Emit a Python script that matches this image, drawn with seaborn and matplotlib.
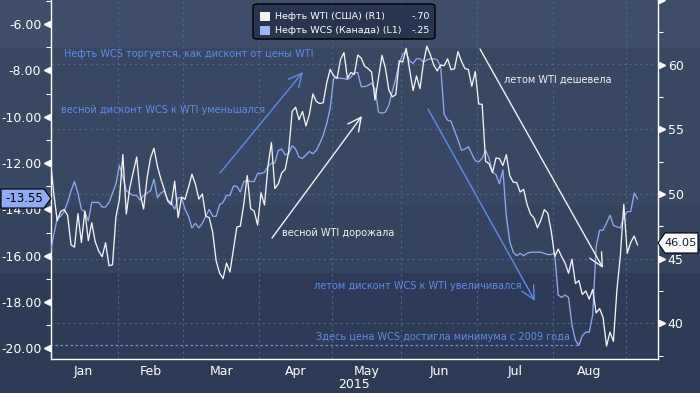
import numpy as np
import pandas as pd
import matplotlib
matplotlib.use("Agg")
import matplotlib.pyplot as plt
import seaborn as sns
from matplotlib.patches import Rectangle, Polygon, FancyBboxPatch
from matplotlib.transforms import blended_transform_factory

# ---------------- data ----------------
month_names = ["Jan", "Feb", "Mar", "Apr", "May", "Jun", "Jul", "Aug"]
month_days = [20, 19, 22, 21, 20, 22, 22, 21]   # trading days per month
year_label = "2015"

wti = [52.69, 50.04, 47.93, 48.65, 48.79, 48.36, 46.07, 45.89, 48.48, 46.25,
       48.69, 46.39, 47.78, 46.31, 45.59, 45.15, 46.23, 44.45, 44.53, 48.24,
       49.57, 53.05, 48.45, 50.48, 51.69, 52.86, 50.02, 48.84, 51.21, 52.78,
       53.53, 52.14, 51.16, 50.34, 49.45, 49.17, 50.99, 48.17, 49.76,
       49.59, 50.52, 51.53, 50.76, 49.61, 50.00, 48.29, 48.17, 47.05, 44.84,
       43.88, 43.46, 44.66, 43.96, 45.72, 47.45, 47.51, 49.21, 51.43, 48.87,
       48.68, 47.60,
       50.09, 49.14, 52.14, 53.98, 50.42, 50.79, 51.64, 51.91, 53.29, 56.39,
       56.71, 55.74, 56.38, 55.26, 56.16, 57.74, 57.15, 56.99, 57.06, 58.58,
       59.63,
       59.15, 58.93, 60.40, 60.93, 58.94, 59.39, 59.25, 60.75, 60.50, 59.88,
       59.69, 59.43, 57.26, 58.98, 60.72, 59.72, 58.03, 57.51, 57.68, 60.30,
       60.20, 61.26, 59.64, 58.00, 59.13, 58.14, 60.14, 61.43, 60.77, 59.96,
       59.52, 59.97, 59.92, 60.45, 59.61, 59.68, 61.01, 60.27, 59.70, 59.63,
       58.33, 59.47,
       56.96, 56.93, 52.53, 52.33, 51.65, 52.78, 52.74, 52.20, 53.04, 51.41,
       50.91, 50.89, 50.15, 50.36, 49.19, 48.45, 48.14, 47.39, 47.98, 48.79,
       48.52, 47.12,
       45.17, 45.74, 45.15, 44.66, 43.87, 44.96, 43.08, 43.30, 42.23, 42.50,
       41.87, 42.62, 40.80, 41.14, 40.45, 38.24, 39.31, 38.60, 42.56, 45.22,
       49.20,
       45.41, 46.25, 46.75, 46.05]

wcs = [-15.9, -15.1, -14.4, -14.3, -14.1, -13.7, -13.2, -12.8, -13.3, -14.0,
       -14.1, -14.5, -13.7, -13.7, -13.7, -13.9, -13.9, -13.7, -13.3, -12.9,
       -12.1, -12.6, -13.2, -13.3, -13.4, -13.4, -13.6, -13.4, -13.3, -13.2,
       -12.7, -13.5, -13.3, -13.2, -13.6, -13.7, -14.0, -13.5, -13.5,
       -14.0, -14.3, -14.8, -14.6, -14.8, -14.6, -14.3, -14.0, -14.3, -14.3,
       -13.8, -13.7, -13.4, -13.4, -13.0, -13.0, -13.25, -12.8, -12.75, -12.8,
       -12.8, -12.45,
       -12.45, -12.4, -12.15, -12.0, -12.0, -11.45, -11.4, -11.65, -11.6, -11.25,
       -11.4, -11.75, -11.8, -11.65, -11.5, -11.6, -11.45, -11.15, -10.8, -10.3,
       -9.65,
       -8.35, -8.3, -8.35, -8.35, -8.4, -8.3, -8.1, -8.1, -8.7, -8.7,
       -8.65, -8.55, -8.8, -9.8, -9.85, -9.8, -9.5, -8.9, -8.35, -7.7,
       -7.3, -7.2, -7.6, -7.7, -7.5, -7.5, -7.65, -7.55, -7.5, -7.5,
       -7.55, -7.85, -9.9, -10.15, -10.2, -10.6, -11.0, -11.45, -11.4, -11.3,
       -11.6, -11.9,
       -11.95, -11.8, -11.45, -11.8, -12.4, -12.5, -12.9, -12.3, -14.3, -15.4,
       -15.85, -16.0, -15.9, -16.0, -15.9, -15.85, -15.85, -15.85, -15.85, -15.9,
       -15.95, -15.95,
       -15.9, -17.7, -17.8, -17.7, -17.8, -19.0, -19.65, -19.87, -19.45, -19.3,
       -19.3, -18.55, -15.6, -14.9, -14.9, -14.6, -14.25, -14.7, -14.75, -14.8,
       -14.3,
       -14.1, -14.1, -13.3, -13.55]

legend_labels = ["Нефть WTI (США) (R1)", "Нефть WCS (Канада) (L1)"]
legend_values = ["-.70", "-.25"]
last_wcs_label = "-13.55"
last_wti_label = "46.05"

notes = {
    "wcs_discount": "Нефть WCS торгуется, как дисконт от цены WTI",
    "spring_wcs": "весной дисконт WCS к WTI уменьшался",
    "spring_wti": "весной WTI дорожала",
    "summer_wti": "летом WTI дешевела",
    "summer_wcs": "летом дисконт WCS к WTI увеличивался",
    "wcs_min": "Здесь цена WCS достигла минимума с 2009 года",
}

# ---------------- style ----------------
sns.set_theme(style="dark")
plt.rcParams["font.family"] = ["DejaVu Sans"]

W, H = 700, 393
BG = "#2c3a55"
BANDS = [(0, 48, "#3e4d69"), (48, 205, "#384762"), (205, 273, "#34435e"), (273, 393, "#2d3b56")]
GRID = "#4d6785"
BLUE_LINE = "#8ea8ee"
BLUE_TXT = "#5b8de6"
WHITE = "#f2f2f2"

df = pd.DataFrame({"day": np.arange(len(wti)), "wti": wti, "wcs": wcs})

fig = plt.figure(figsize=(W / 100, H / 100), dpi=100, facecolor=BG)
for y0, y1, c in BANDS:
    fig.patches.append(Rectangle((0, 1 - y1 / H), 1, (y1 - y0) / H,
                                 transform=fig.transFigure, facecolor=c,
                                 edgecolor="none", zorder=-10))

ax = fig.add_axes([51 / W, 1 - 359 / H, (658 - 51) / W, 359 / H])
ax.set_facecolor("none")
ax2 = ax.twinx()
ax2.set_facecolor("none")

L_LIM = (-20.46, -4.964)
R_LIM = (37.24, 64.97)
ax.set_xlim(0.2, 175.9)
ax.set_ylim(*L_LIM)
ax2.set_ylim(*R_LIM)


def r2l(r):
    return L_LIM[0] + (r - R_LIM[0]) * (L_LIM[1] - L_LIM[0]) / (R_LIM[1] - R_LIM[0])


bounds = np.cumsum(month_days) - 0.5
starts = np.concatenate([[-0.5], bounds[:-1]])
centers = (starts + bounds) / 2

# grid
for b in bounds:
    ax.axvline(b, color=GRID, lw=0.8, ls=(0, (2, 3)), zorder=0.5)
for r in [40, 45, 50, 55, 60]:
    ax.axhline(r2l(r), color=GRID, lw=0.8, ls=(0, (2, 3)), zorder=0.5)

# minimum annotation line
imin = int(np.argmin(wcs))
ax.hlines(wcs[imin], 0, imin, colors="#6d92e0", lw=0.9, ls=(0, (2, 2)), zorder=1)

# series
sns.lineplot(data=df, x="day", y="wcs", ax=ax, color=BLUE_LINE, lw=0.95, zorder=3)
sns.lineplot(data=df, x="day", y="wti", ax=ax2, color=WHITE, lw=0.95, zorder=3)
ax.set_xlabel("")
ax.set_ylabel("")
ax2.set_ylabel("")

# spines
for a in (ax, ax2):
    for s in a.spines.values():
        s.set_visible(False)
ax.spines["left"].set_visible(True)
ax.spines["bottom"].set_visible(True)
ax2.spines["right"].set_visible(True)
for s in (ax.spines["left"], ax.spines["bottom"], ax2.spines["right"]):
    s.set_color("white")
    s.set_linewidth(1.0)

# x ticks
ax.set_xticks(bounds)
ax.set_xticklabels([])
ax.set_xticks(centers, minor=True)
ax.set_xticklabels(month_names, minor=True)
ax.tick_params(axis="x", which="major", length=3, width=0.8, color="white", direction="out")
ax.tick_params(axis="x", which="minor", length=0, pad=4, labelsize=9, labelcolor="white")
fig.text(354 / W, 1 - 384 / H, year_label, ha="center", va="center", color="white", fontsize=9)

# left y ticks
lt = np.arange(-20, -5, 2)
ax.set_yticks(lt)
ax.set_yticklabels([f"{v:.2f}" for v in lt])
ax.set_yticks(np.arange(-19, -4, 2), minor=True)
ax.tick_params(axis="y", which="major", length=0, pad=7, labelsize=9, labelcolor="white")
ax.tick_params(axis="y", which="minor", length=3.5, width=0.8, color="white", direction="out")
ax.grid(False)

# right y ticks
rt = [40, 45, 50, 55, 60, 65]
ax2.set_yticks(rt)
ax2.set_yticklabels([str(v) if v < 65 else "" for v in rt])
ax2.set_yticks(np.arange(37.5, 65, 5), minor=True)
ax2.tick_params(axis="y", which="major", length=0, pad=7, labelsize=9, labelcolor="white")
ax2.tick_params(axis="y", which="minor", length=3.5, width=0.8, color="white", direction="out")
ax2.grid(False)

# triangle tick markers
trL = blended_transform_factory(ax.transAxes, ax.transData)
ax.plot(np.full(len(lt), -0.006), lt, ls="none", marker="<", ms=5, color="white",
        transform=trL, clip_on=False, zorder=5)
trR = blended_transform_factory(ax2.transAxes, ax2.transData)
ax2.plot(np.full(len(rt), 1.006), rt, ls="none", marker=">", ms=5, color="white",
         transform=trR, clip_on=False, zorder=5)


def fx(x):
    return x / W


def fy(y):
    return 1 - y / H


# legend box
fig.patches.append(FancyBboxPatch((fx(253), fy(39)), (435 - 253) / W, 35 / H,
                                  boxstyle="round,pad=0,rounding_size=0.006",
                                  transform=fig.transFigure, facecolor="#28354e",
                                  edgecolor="black", lw=1.0, zorder=10))
for k, (lab, val, col) in enumerate(zip(legend_labels, legend_values, [WHITE, "#9fb5f5"])):
    yc = 16.5 + 14 * k
    fig.patches.append(Rectangle((fx(260), fy(yc + 4.5)), 10 / W, 9 / H,
                                 transform=fig.transFigure, facecolor=col,
                                 edgecolor="none", zorder=11))
    fig.text(fx(275), fy(yc), lab, color="white", fontsize=6.8, va="center", ha="left", zorder=12)
    fig.text(fx(430), fy(yc), val, color="white", fontsize=6.8, va="center", ha="right", zorder=12)

# last value labels
fig.patches.append(Polygon([(fx(1), fy(189)), (fx(44), fy(189)), (fx(51), fy(198.5)),
                            (fx(44), fy(208)), (fx(1), fy(208))], closed=True,
                           transform=fig.transFigure, facecolor="#8fabf3",
                           edgecolor="black", lw=0.8, zorder=10))
fig.text(fx(24), fy(198.5), last_wcs_label, color="black", fontsize=8.5, ha="center",
         va="center", zorder=12)
fig.patches.append(Polygon([(fx(658), fy(243)), (fx(665), fy(233)), (fx(698), fy(233)),
                            (fx(698), fy(253)), (fx(665), fy(253))], closed=True,
                           transform=fig.transFigure, facecolor="white",
                           edgecolor="black", lw=0.8, zorder=10))
fig.text(fx(680.5), fy(243), last_wti_label, color="#111a30", fontsize=8.2, ha="center",
         va="center", zorder=12)

# annotations
def arrow(tail, head, color):
    ax.annotate("", xy=(head[0], H - head[1]), xycoords="figure pixels",
                xytext=(tail[0], H - tail[1]), textcoords="figure pixels",
                arrowprops=dict(arrowstyle="->,head_length=0.8,head_width=0.4",
                                color=color, lw=1.0, shrinkA=0, shrinkB=0),
                annotation_clip=False, zorder=6)


arrow((220, 173), (303, 72), BLUE_TXT)
arrow((272, 238), (362, 116), WHITE)
arrow((480, 49), (603, 268), WHITE)
arrow((428, 109), (535, 301), BLUE_TXT)

fs = 7.0
fig.text(fx(64), fy(54), notes["wcs_discount"], color=BLUE_TXT, fontsize=fs, va="center")
fig.text(fx(61), fy(110), notes["spring_wcs"], color=BLUE_TXT, fontsize=fs, va="center")
fig.text(fx(282), fy(233), notes["spring_wti"], color=WHITE, fontsize=fs, va="center")
fig.text(fx(504), fy(80), notes["summer_wti"], color=WHITE, fontsize=fs, va="center")
fig.text(fx(314), fy(286), notes["summer_wcs"], color=BLUE_TXT, fontsize=fs, va="center")
fig.text(fx(316), fy(336.5), notes["wcs_min"], color=BLUE_TXT, fontsize=fs, va="center")

fig.savefig("out.png", dpi=100, facecolor=BG)
